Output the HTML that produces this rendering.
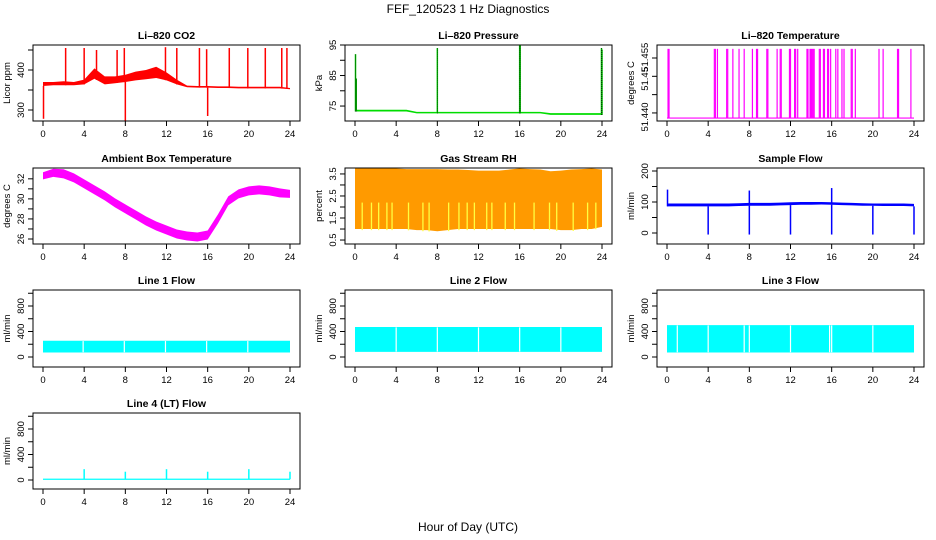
<!DOCTYPE html>
<html><head><meta charset="utf-8">
<style>
html,body{margin:0;padding:0;background:#fff;}
svg{display:block;font-family:"Liberation Sans",sans-serif;}
</style></head>
<body>
<svg id="chart" width="936" height="540" viewBox="0 0 936 540">
<text x="468" y="13" text-anchor="middle" font-size="12">FEF_120523  1 Hz Diagnostics</text>
<text x="468" y="531" text-anchor="middle" font-size="12">Hour of Day (UTC)</text>
</svg>
<script>
// ---------- data ----------
const hours = [0,1,2,3,4,5,6,7,8,9,10,11,12,13,14,15,16,17,18,19,20,21,22,23,24];
const xTicks = [0,4,8,12,16,20,24];

const co2Low  = [360,362,362,362,364,378,364,367,370,374,377,380,374,364,357,356,356,355,355,354,354,354,354,354,352];
const co2High = [370,370,372,370,376,404,384,384,388,396,400,408,394,376,361,360,360,359,359,358,358,358,358,358,355];
const co2SpikeHours = [2.2,4.0,5.2,7.2,7.9,11.9,13.0,15.2,15.9,18.1,19.9,21.6,23.2,23.7,0.05,8.0,16.0];
const co2SpikeValues = [455,455,450,450,455,457,455,455,452,455,455,455,455,455,278,273,285];

const presLow  = [73.2,73.2,73.2,73.2,73.2,73.2,72.6,72.6,72.6,72.6,72.6,72.6,72.6,72.6,72.6,72.6,72.6,72.6,72.6,72.1,72.1,72.1,72.1,72.1,72.1];
const presHigh = [73.8,73.8,73.8,73.8,73.8,73.8,73.1,73.1,73.1,73.1,73.1,73.1,73.1,73.1,73.1,73.1,73.1,73.1,73.1,72.7,72.7,72.7,72.7,72.7,72.7];
const presSpikeHours = [0.05,0.12,8.0,16.0,16.05,23.95,24.0];
const presSpikeValues = [92,84,94,95,95,94,93.5];

const tempBase = 51.4386;
const tempSpikeHours = [0.1,0.2,4.6,4.7,4.9,5.8,5.9,6.4,7.0,7.5,8.3,8.7,8.8,9.7,9.8,10.7,11.0,11.1,11.9,12.0,12.4,12.5,12.7,13.6,13.7,13.9,14.0,14.1,14.2,14.3,14.8,14.9,15.2,15.3,15.6,15.7,15.9,16.4,16.6,17.0,17.2,17.9,18.0,18.3,20.6,21.0,22.4,22.5,23.7];
const tempSpikeValue = 51.4575;

const ambCenter = [32.3,32.6,32.5,32.1,31.5,30.9,30.3,29.6,29.0,28.4,27.8,27.3,26.9,26.5,26.3,26.2,26.4,28.0,29.8,30.5,30.8,30.9,30.8,30.6,30.5];
const ambHalfWidth = [0.35,0.4,0.45,0.45,0.45,0.45,0.45,0.45,0.45,0.45,0.45,0.45,0.45,0.45,0.45,0.45,0.45,0.45,0.45,0.45,0.45,0.45,0.45,0.45,0.4];

const rhLow  = [1.0,1.0,1.0,1.0,1.0,1.0,0.95,0.95,0.9,0.95,1.0,1.0,1.0,1.0,1.0,1.0,1.0,1.0,1.0,1.0,0.95,0.95,1.0,1.0,1.1];
const rhHigh = [3.75,3.75,3.75,3.75,3.75,3.72,3.72,3.72,3.72,3.7,3.7,3.68,3.65,3.65,3.65,3.7,3.75,3.72,3.7,3.62,3.65,3.7,3.72,3.75,3.7];
const rhGapHours = [0.7,1.6,2.3,3.1,3.6,5.2,6.6,7.2,9.1,10.1,10.9,11.6,12.8,13.3,14.6,15.5,17.4,18.9,19.6,21.2,22.6,23.4];

const sflowLow  = [86,86,86,86,86,86,86,87,88,88,88,89,90,91,91,92,91,90,89,88,88,87,87,87,86];
const sflowHigh = [95,95,95,95,95,95,95,96,97,97,97,98,99,100,100,100,99,98,97,96,95,95,95,95,94];
const sflowSpikeHours = [0.05,8.0,16.0,4.0,8.0,12.0,16.0,20.0,24.0];
const sflowSpikeValues = [140,137,145,-5,-5,-5,-5,-5,-5];

const line1Low = 70, line1High = 255, line1Gaps = [3.9,7.9,11.9,15.9,19.9];
const line2Low = 80, line2High = 470, line2Gaps = [4.0,8.0,12.0,16.0,20.0];
const line3Low = 70, line3High = 500, line3Gaps = [1.0,4.0,7.5,8.0,12.0,15.8,16.0,20.0];
const line4Base = 12;
const line4SpikeHours = [4.0,8.0,12.0,16.0,20.0,24.0];
const line4SpikeValues = [170,130,170,130,170,130];

// ---------- drawing ----------
const NS = "http://www.w3.org/2000/svg";
const svg = document.getElementById("chart");
function mk(tag, attrs, parent){
  const e = document.createElementNS(NS, tag);
  for (const k in attrs) e.setAttribute(k, attrs[k]);
  (parent||svg).appendChild(e);
  return e;
}
const colBox = [[33,300],[345,612],[657,924]];
const rowBox = [[45,121],[168,244],[290,367],[413,489]];

function panel(col,row,ylim,yticks,ylabels,ytitle,title,name){
  const [L,R] = colBox[col], [T,B] = rowBox[row];
  const g = mk("g",{});
  
  
  const X = h => L + 10 + h*(R-L-20)/24;
  const Y = v => B - (v-ylim[0])/(ylim[1]-ylim[0])*(B-T);
  const plot = mk("g",{}, g);
  
  
  const frame = mk("rect",{x:L,y:T,width:R-L,height:B-T,fill:"none",stroke:"#000","stroke-width":1}, g);
  
  
  const t = mk("text",{x:(L+R)/2,y:T-6,"text-anchor":"middle","font-size":"10.5","font-weight":"bold"}, g);
  t.textContent = title;
  
  
  xTicks.forEach(h=>{
    mk("line",{x1:X(h),x2:X(h),y1:B,y2:B+5,stroke:"#000"}, g);
    const tl = mk("text",{x:X(h),y:B+16,"text-anchor":"middle","font-size":"9.5"}, g);
    tl.textContent = h;
    
    
  });
  yticks.forEach(v=>{
    mk("line",{x1:L-5,x2:L,y1:Y(v),y2:Y(v),stroke:"#000"}, g);
  });
  ylabels.forEach(([v,s])=>{
    const yl = mk("text",{x:0,y:0,"text-anchor":"middle","font-size":"9.5",transform:`translate(${L-9},${Y(v)}) rotate(-90)`}, g);
    yl.textContent = s;
    
    
  });
  const yt = mk("text",{x:0,y:0,"text-anchor":"middle","font-size":"9.5",transform:`translate(${L-23},${(T+B)/2}) rotate(-90)`}, g);
  yt.textContent = ytitle;
  
  
  return {g:plot,X,Y,T,B};
}
function band(p, lows, highs, fill, name){
  let pts = hours.map((h,i)=>`${p.X(h)},${p.Y(highs[i])}`);
  pts = pts.concat(hours.slice().reverse().map((h,j)=>{const i=hours.length-1-j;return `${p.X(h)},${p.Y(lows[i])}`;}));
  const e = mk("polygon",{points:pts.join(" "),fill:fill}, p.g);
  
  
  return e;
}
function vline(p,h,v0,v1,color,w,name){
  const e = mk("line",{x1:p.X(h),x2:p.X(h),y1:p.Y(v0),y2:p.Y(v1),stroke:color,"stroke-width":w||1.5}, p.g);
  
  
}
function interp(arr,h){
  const i = Math.min(Math.floor(h),23), f = h-i;
  return arr[i]*(1-f)+arr[i+1]*f;
}

// CO2
let p = panel(0,0,[272.5,462.5],[300,350,400,450],[[300,"300"],[400,"400"]],"Licor ppm","Li\u2013820 CO2","co2");
band(p,co2Low,co2High,"#ff0000","co2-band");
co2SpikeHours.forEach((h,i)=>vline(p,h,interp(co2Low,h),co2SpikeValues[i],"#ff0000",1.5,"co2-spike"));

// Pressure
p = panel(1,0,[70.1,95],[75,80,85,90,95],[[75,"75"],[85,"85"],[95,"95"]],"kPa","Li\u2013820 Pressure","pressure");
band(p,presLow,presHigh,"#00dd00","pressure-band");
presSpikeHours.forEach((h,i)=>vline(p,h,interp(presLow,h),presSpikeValues[i],"#00cc00",1.5,"pressure-spike"));
presSpikeHours.forEach((h,i)=>{ const e=mk("line",{x1:p.X(h),x2:p.X(h),y1:p.Y(interp(presLow,h)),y2:p.Y(presSpikeValues[i]),stroke:"#000","stroke-width":0.6,"stroke-dasharray":"1 1"},p.g);   });

// Temperature
p = panel(2,0,[51.4378,51.45855],[51.440,51.445,51.450,51.455],[[51.4389,"51.440"],[51.4493,"51.45"],[51.4552,"51.455"]],"degrees C","Li\u2013820 Temperature","licor-temp");
{ const e=mk("line",{x1:p.X(0),x2:p.X(24),y1:p.Y(tempBase),y2:p.Y(tempBase),stroke:"#ff00ff","stroke-width":1.2},p.g);   }
tempSpikeHours.forEach(h=>vline(p,h,tempBase,tempSpikeValue,"#ff00ff",1.2,"temp-spike"));

// Ambient
p = panel(0,1,[25.5,33.08],[26,27,28,29,30,31,32],[[26,"26"],[28,"28"],[30,"30"],[32,"32"]],"degrees C","Ambient Box Temperature","ambient");
band(p,ambCenter.map((c,i)=>c-ambHalfWidth[i]),ambCenter.map((c,i)=>c+ambHalfWidth[i]),"#ff00ff","ambient-band");

// RH
p = panel(1,1,[0.32,3.77],[0.5,1,1.5,2,2.5,3,3.5],[[0.5,"0.5"],[1.5,"1.5"],[2.5,"2.5"],[3.5,"3.5"]],"percent","Gas Stream RH","rh");
band(p,rhLow,rhHigh,"#ff9a00","rh-band");
rhGapHours.forEach(h=>vline(p,h,interp(rhLow,h)-0.05,2.2,"#ffff40",1.3,"rh-gap"));

// Sample flow
p = panel(2,1,[-35.5,209.7],[0,50,100,150,200],[[0,"0"],[100,"100"],[200,"200"]],"ml/min","Sample Flow","sample-flow");
band(p,sflowLow,sflowHigh,"#0000ff","sample-flow-band");
sflowSpikeHours.forEach((h,i)=>vline(p,h,interp(sflowLow,h),sflowSpikeValues[i],"#0000ff",1.5,"sample-flow-spike"));

// Line flows
const flowTicks=[0,200,400,600,800,1000], flowLabels=[[0,"0"],[400,"400"],[800,"800"]];
function flowPanel(col,row,lo,hi,gaps,title,name){
  const q = panel(col,row,[-157,1051],flowTicks,flowLabels,"ml/min",title,name);
  band(q,hours.map(()=>lo),hours.map(()=>hi),"#00ffff",name+"-band");
  gaps.forEach(h=>vline(q,h,lo+5,hi-5,"#ffffff",1.2,name+"-gap"));
  return q;
}
flowPanel(0,2,line1Low,line1High,line1Gaps,"Line 1 Flow","line1-flow");
flowPanel(1,2,line2Low,line2High,line2Gaps,"Line 2 Flow","line2-flow");
flowPanel(2,2,line3Low,line3High,line3Gaps,"Line 3 Flow","line3-flow");
p = panel(0,3,[-141,1051],flowTicks,flowLabels,"ml/min","Line 4 (LT) Flow","line4-flow");
band(p,hours.map(()=>line4Base-10),hours.map(()=>line4Base+10),"#00ffff","line4-band");
line4SpikeHours.forEach((h,i)=>vline(p,h,line4Base,line4SpikeValues[i],"#00ffff",1.5,"line4-spike"));
</script>
</body></html>
